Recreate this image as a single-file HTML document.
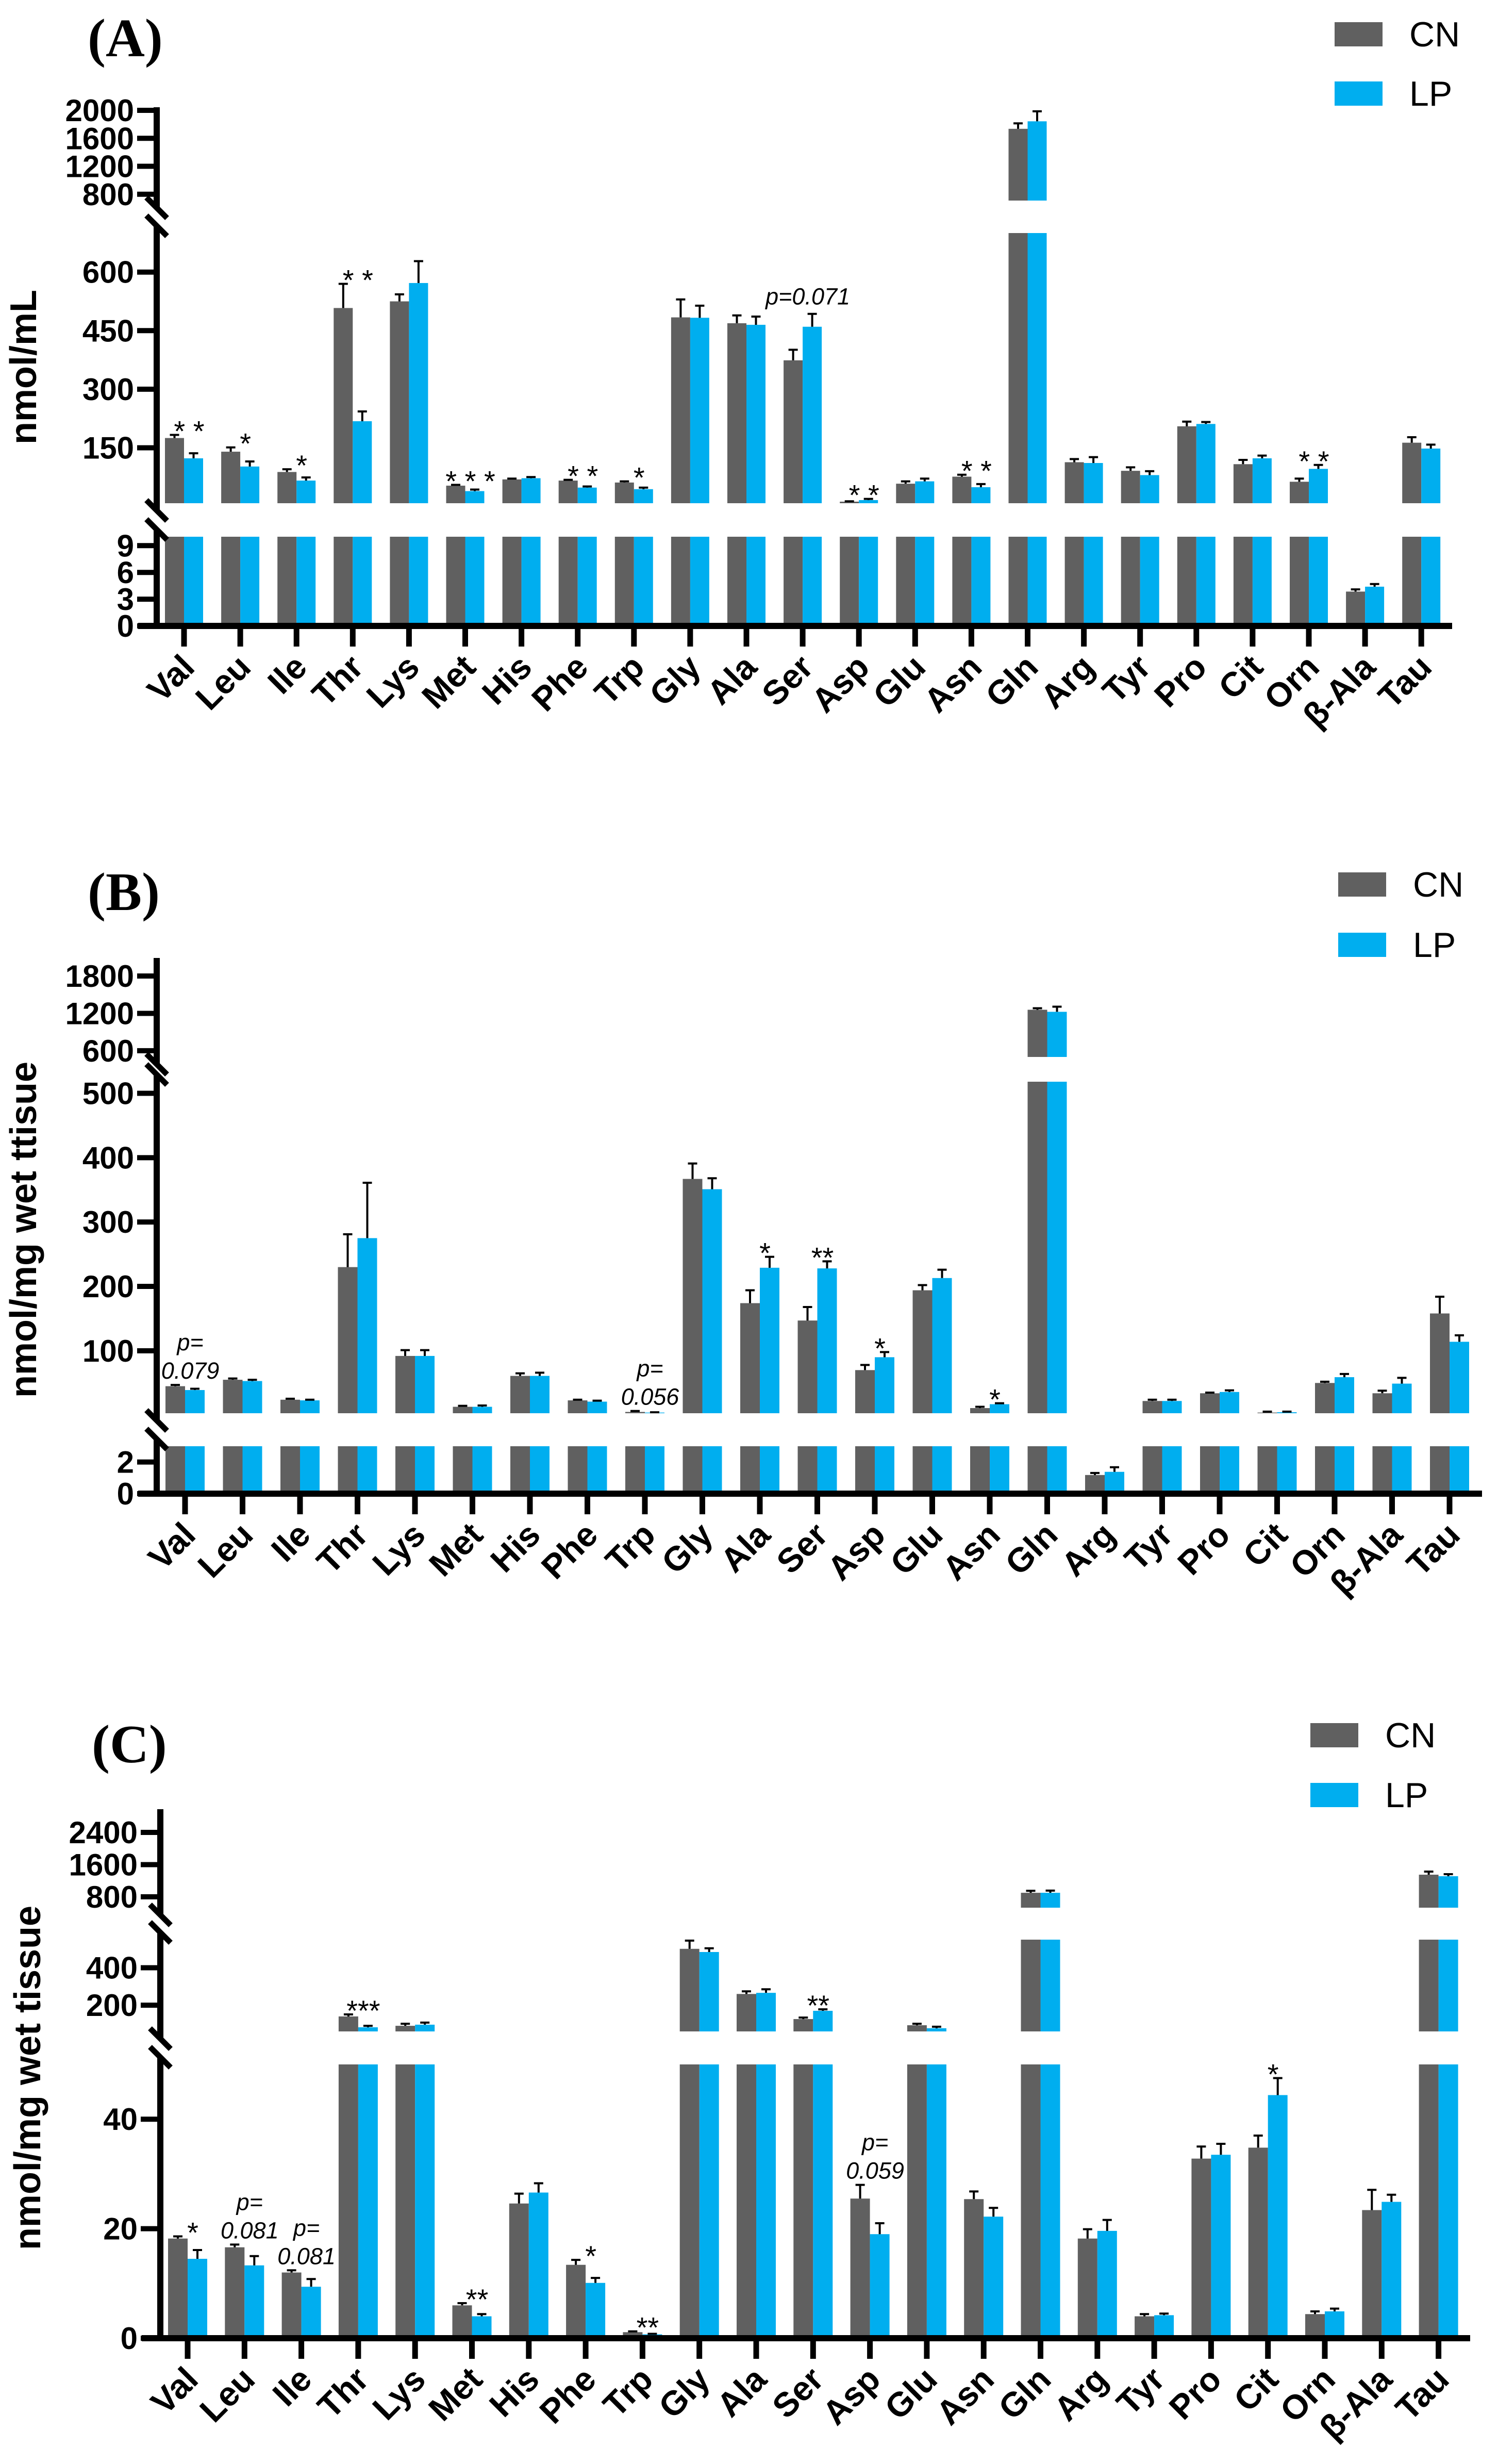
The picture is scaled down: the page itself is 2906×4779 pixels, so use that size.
<!DOCTYPE html>
<html><head><meta charset="utf-8"><style>
html,body{margin:0;padding:0;background:#fff;}
svg{display:block;}
</style></head><body>
<svg id="fig" xmlns="http://www.w3.org/2000/svg" width="2906" height="4779" viewBox="0 0 2906 4779" font-family="Liberation Sans, Arial, sans-serif"></svg>
<script>
const cats = ["Val","Leu","Ile","Thr","Lys","Met","His","Phe","Trp","Gly","Ala","Ser","Asp","Glu","Asn","Gln","Arg","Tyr","Pro","Cit","Orn","β-Ala","Tau"];

const cnA = [175,140,88,508,525,53,69,66,61,484,469,374,12,58,76,1736,113,91,205,108,63,3.85,163];
const cnErrA = [183,151,95,570,543,55,71,68,64,530,489,401,13,64,81,1814,121,100,217,119,71,4.1,177];
const lpA = [123,102,66,218,572,39,72,48,44,483,465,460,16,64,49,1843,111,80,211,123,96,4.4,148];
const lpErrA = [136,115,74,243,628,43,75,51,48,514,486,493,19,71,57,1986,126,90,216,130,106,4.7,158];
const ticksA = [[0,3,6,9],[150,300,450,600],[800,1200,1600,2000]];
const annCatA = [0,1,2,3,5,7,8,11,12,14,20];
const annTextA = ["* *","*","*","* *","* * *","* *","*","p=0.071","* *","* *","* *"];

const cnB = [45,55,24,230,92,13,61,23,5,367,174,147,70,194,11,1258,1.18,22,34,4,50,34,158];
const cnErrB = [47,57,25.5,281,101,14.5,65,24,6.5,391,194,168,78,202,13,1282,1.31,24,35,5.5,52,38,184];
const lpB = [39,53,23,275,92,13,61,21,4,351,229,228,90,213,17,1225,1.38,22,36,4.5,59,49,114];
const lpErrB = [41,55,24,361,101,15,66,22.5,4.5,368,246,239,98,226,18.5,1307,1.67,24,38.5,5.5,64,58,124];
const ticksB = [[0,2],[100,200,300,400,500],[600,1200,1800]];
const annCatB = [0,8,10,11,12,14];
const annTextB = ["p=|0.079","p=|0.056","*","**","*","*"];

const cnC = [18.2,16.6,12.0,140,90,6.0,24.6,13.4,1.1,501,260,126,25.5,93,25.4,900,18.2,4.0,32.8,34.8,4.4,23.4,1350];
const cnErrC = [18.6,17.1,12.4,151,101,6.4,26.4,14.3,1.25,545,274,134,28,101,26.8,950,19.9,4.4,35,37,4.9,27.1,1427];
const lpC = [14.5,13.3,9.4,82,96,4.0,26.6,10.1,0.7,484,266,170,19.0,77,22.2,900,19.6,4.2,33.5,44.4,4.9,24.9,1312];
const lpErrC = [16.1,15.0,10.8,90,107,4.4,28.3,11.0,0.8,504,285,178,21,85,23.8,955,21.6,4.5,35.5,47.5,5.4,26.2,1363];
const ticksC = [[0,20,40],[200,400],[800,1600,2400]];
const annCatC = [0,1,2,3,5,7,8,11,12,19];
const annTextC = ["*","p=|0.081","p=|0.081","***","**","*","**","**","p=|0.059","*"];

const NS = "http://www.w3.org/2000/svg";
const svg = document.getElementById("fig");
function mk(tag, attrs, parent, txt){
  const e = document.createElementNS(NS, tag);
  for (const k in attrs) e.setAttribute(k, attrs[k]);
  if (txt !== undefined) e.textContent = txt;
  (parent || svg).appendChild(e);
  return e;
}

function drawPanel(P){
  const g = mk("g", {});
  
  
  const segs = P.segs;
  function yOf(v, s){ return s.y0 - (v - s.min) / (s.max - s.min) * (s.y0 - s.y1); }
  function xOf(i){ return P.x0 + i * P.dx; }
  function segFor(v){ for (const s of segs){ if (v > s.min && v <= s.max) return s; } return null; }

  const t = mk("text", {x:P.titleX, y:P.titleY, "font-family":"Liberation Serif, serif", "font-weight":"bold", "font-size":105}, g, "(" + P.id.toUpperCase() + ")");
  
  

  const series = [["CN","#606060"],["LP","#00AEEF"]];
  series.forEach((sr, k) => {
    const ly = P.legY + k * P.legDy;
    const r = mk("rect", {x:P.legX, y:ly, width:93, height:47, fill:sr[1]}, g);
    
    
    const lt = mk("text", {x:P.legX + 145, y:ly + 47, "font-size":68}, g, sr[0]);
    
    
  });

  const data = [[P.cn, P.cnErr, "#606060", -1, "cn"], [P.lp, P.lpErr, "#00AEEF", 0, "lp"]];
  data.forEach(d => {
    cats.forEach((c, i) => {
      const v = d[0][i], e = d[1][i];
      const bx = xOf(i) + d[3] * P.bw;
      segs.forEach(s => {
        if (v > s.min){
          const top = yOf(Math.min(v, s.max), s);
          const r = mk("rect", {x:bx, y:top, width:P.bw, height:s.y0 - top, fill:d[2]}, g);
          
          
        }
      });
      const s = segFor(v);
      if (s){
        const yv = yOf(v, s), ye = yOf(Math.min(e, s.max), s);
        const cx = bx + P.bw / 2;
        const l = mk("path", {d:`M${cx},${yv}V${ye}M${cx-9},${ye}H${cx+9}`, stroke:"#000", "stroke-width":4, fill:"none"}, g);
        
        
      }
    });
  });

  segs.forEach((s, k) => {
    const bot = k === 0 ? P.axisY + 6 : s.y0 + 14;
    const top = k === segs.length - 1 ? s.y1 - 6 : s.y1 - 14;
    const a = mk("line", {x1:P.axisX, y1:bot, x2:P.axisX, y2:top, stroke:"#000", "stroke-width":12}, g);
    
    
    if (k > 0){
      const sl = mk("line", {x1:P.axisX-20, y1:bot-20, x2:P.axisX+20, y2:bot+20, stroke:"#000", "stroke-width":11}, g);
      
      
    }
    if (k < segs.length - 1){
      const sl = mk("line", {x1:P.axisX-20, y1:top-20, x2:P.axisX+20, y2:top+20, stroke:"#000", "stroke-width":11}, g);
      
      
    }
    P.ticks[k].forEach(tv => {
      const ty = yOf(tv, s);
      const tl = mk("line", {x1:P.axisX-38, y1:ty, x2:P.axisX, y2:ty, stroke:"#000", "stroke-width":10}, g);
      
      
      const tt = mk("text", {x:P.axisX-44, y:ty+21, "text-anchor":"end", "font-weight":"bold", "font-size":60}, g, String(tv));
      
      
    });
  });

  const xa = mk("line", {x1:P.axisX-36, y1:P.axisY, x2:P.axisX2, y2:P.axisY, stroke:"#000", "stroke-width":12}, g);
  
  
  cats.forEach((c, i) => {
    const x = xOf(i);
    const tk = mk("line", {x1:x, y1:P.axisY, x2:x, y2:P.axisY+40, stroke:"#000", "stroke-width":11}, g);
    
    
    const lx = x + 24, ly = P.axisY + 84;
    const tl = mk("text", {x:lx, y:ly, "text-anchor":"end", "font-weight":"bold", "font-size":66, transform:`rotate(-45 ${lx} ${ly})`}, g, c);
    
    
  });

  const yt = mk("text", {x:P.ylx, y:P.yly, "text-anchor":"middle", "font-weight":"bold", "font-size":72, transform:`rotate(-90 ${P.ylx} ${P.yly})`}, g, P.ylabel);
  
  

  P.annCat.forEach((ci, k) => {
    const txt = P.annText[k];
    let top = Infinity;
    [[P.cn, P.cnErr],[P.lp, P.lpErr]].forEach(d => {
      const s = segFor(d[0][ci]);
      if (s){ top = Math.min(top, yOf(Math.min(d[1][ci], s.max), s)); }
    });
    const cx = xOf(ci) + 10;
    let el;
    if (txt.indexOf("|") >= 0){
      const parts = txt.split("|");
      el = mk("text", {x:cx, y:top-12-55, "text-anchor":"middle", "font-style":"italic", "font-size":45}, g, parts[0]);
      
      
      el = mk("text", {x:cx, y:top-12, "text-anchor":"middle", "font-style":"italic", "font-size":45}, g, parts[1]);
      
      
    } else if (txt.indexOf("p") === 0){
      el = mk("text", {x:cx, y:top-18, "text-anchor":"middle", "font-style":"italic", "font-size":45}, g, txt);
      
      
    } else {
      el = mk("text", {x:cx, y:top+12, "text-anchor":"middle", "font-size":56}, g, txt);
      
      
    }
  });
}

drawPanel({id:"a", cn:cnA, cnErr:cnErrA, lp:lpA, lpErr:lpErrA, ticks:ticksA, annCat:annCatA, annText:annTextA,
  segs:[{min:0,max:10,y0:1214,y1:1041},{min:8,max:700,y0:976,y1:452},{min:710,max:2000,y0:389,y1:214}],
  axisX:304, axisY:1214, axisX2:2817, x0:357, dx:109.1, bw:37,
  titleX:170, titleY:109, legX:2589, legY:43, legDy:115,
  ylabel:"nmol/mL", ylx:70, yly:712});

drawPanel({id:"b", cn:cnB, cnErr:cnErrB, lp:lpB, lpErr:lpErrB, ticks:ticksB, annCat:annCatB, annText:annTextB,
  segs:[{min:0,max:3,y0:2897,y1:2805},{min:3,max:518,y0:2741,y1:2098},{min:500,max:2040,y0:2050,y1:1864}],
  axisX:304, axisY:2897, axisX2:2875, x0:359, dx:111.5, bw:38,
  titleX:170, titleY:1765, legX:2596, legY:1692, legDy:117,
  ylabel:"nmol/mg wet ttisue", ylx:70, yly:2385});

drawPanel({id:"c", cn:cnC, cnErr:cnErrC, lp:lpC, lpErr:lpErrC, ticks:ticksC, annCat:annCatC, annText:annTextC,
  segs:[{min:0,max:50,y0:4535,y1:4004},{min:60,max:550,y0:3940,y1:3762},{min:530,max:2900,y0:3700,y1:3515}],
  axisX:311, axisY:4535, axisX2:2852, x0:364, dx:110.3, bw:38,
  titleX:178, titleY:3418, legX:2542, legY:3342, legDy:116,
  ylabel:"nmol/mg wet tissue", ylx:78, yly:4030});
</script>
</body></html>
